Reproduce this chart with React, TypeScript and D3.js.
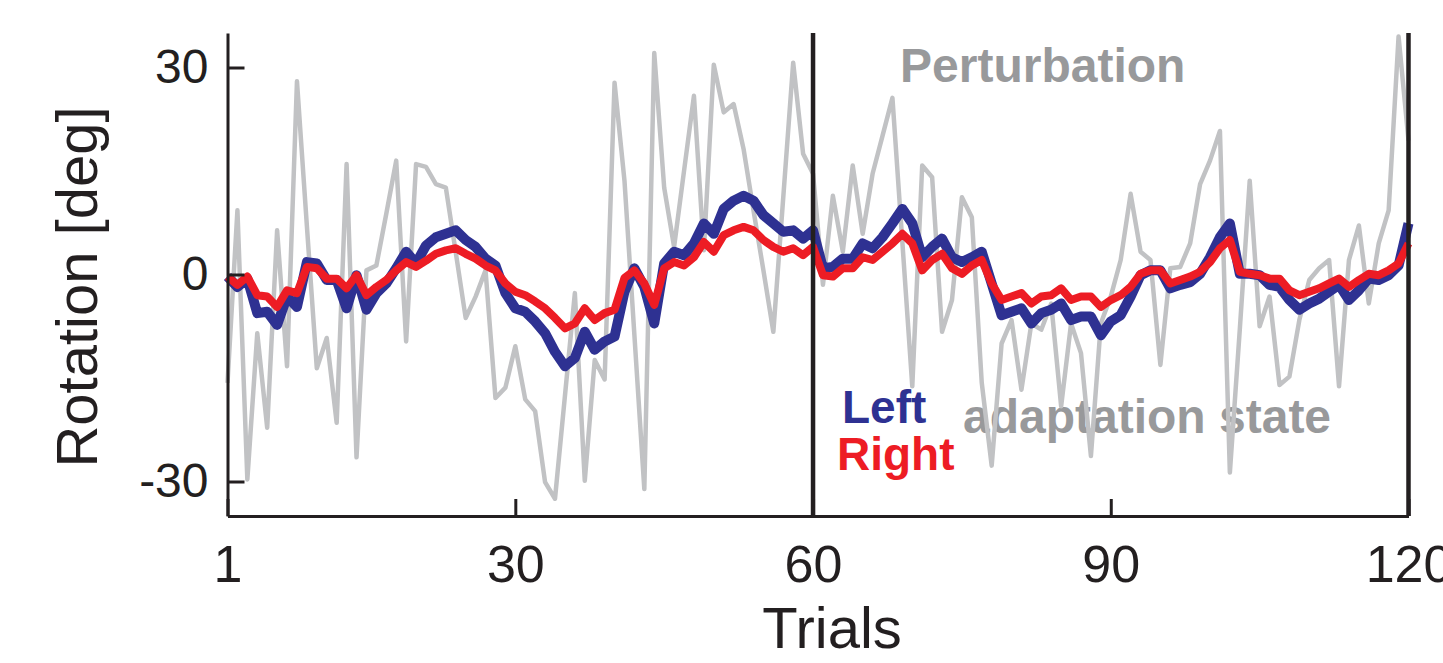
import { useEffect, useRef } from "react";
import { select, scaleLinear, line, axisLeft, axisBottom, range } from "d3";

// trial numbers 1..120
const trials = range(1, 121);

// grey trace: imposed perturbation per trial [deg]
const perturbation = [
  -15.7, 9.3, -29.7, -8.5, -22.2, 6.4, -13.3, 28.0, 7.0, -13.6,
  -9.2, -21.5, 16.0, -26.5, 0.6, 1.3, 8.8, 16.5, -9.7, 16.0,
  15.6, 13.1, 12.6, 3.2, -6.3, -3.2, 0.6, -17.9, -16.4, -10.4,
  -18.1, -19.8, -30.1, -32.5, -17.6, -2.7, -29.9, -12.4, -15.2, 27.8,
  13.6, -8.8, -31.1, 32.1, 12.6, 4.0, 15.0, 25.9, 3.5, 30.4,
  23.5, 24.7, 18.2, 9.3, 0.6, -8.3, 11.2, 30.7, 17.5, 14.6,
  -1.5, 11.4, 3.3, 15.8, 5.9, 14.6, 20.1, 25.6, 4.7, -16.2,
  15.8, 14.1, -8.3, -3.7, 11.2, 8.3, -15.7, -27.7, -10.0, -6.6,
  -16.7, -7.1, -8.0, -4.2, -19.1, -7.1, -11.4, -26.3, -7.1, -3.2,
  2.1, 11.7, 3.3, 2.1, -13.1, 0.9, 1.1, 4.5, 13.1, 16.5,
  20.8, -28.7, -8.0, 13.6, -7.5, -3.2, -16.0, -14.8, -6.6, -0.8,
  0.9, 2.1, -16.2, 2.1, 7.1, -4.2, 4.5, 9.3, 34.5, 19.4,
];

// adaptation state, left hand
const leftState = [
  -0.3, -1.8, -0.6, -5.6, -5.4, -7.3, -3.2, -4.7, 1.8, 1.6,
  -0.8, -0.8, -4.9, -0.1, -5.1, -2.7, -1.3, 0.9, 3.3, 1.6,
  4.2, 5.4, 5.9, 6.4, 5.0, 4.0, 2.3, 1.3, -2.7, -4.9,
  -5.4, -6.8, -8.5, -11.2, -13.3, -12.1, -8.3, -10.9, -9.7, -9.0,
  -2.5, 0.9, -1.8, -7.1, 1.6, 3.3, 2.8, 4.5, 7.4, 5.9,
  9.5, 10.7, 11.4, 10.7, 8.6, 7.4, 6.2, 6.4, 5.2, 6.4,
  0.9, 1.1, 2.3, 2.3, 4.5, 3.8, 5.4, 7.4, 9.5, 7.4,
  2.5, 4.0, 5.2, 2.5, 1.8, 2.5, 3.3, -1.3, -5.9, -5.4,
  -4.9, -7.1, -5.6, -5.1, -4.2, -6.6, -6.1, -6.1, -8.8, -6.8,
  -5.9, -3.2, -0.1, 0.6, 0.6, -2.0, -1.5, -1.1, 0.1, 2.5,
  5.4, 7.4, 0.1, 0.1, -0.1, -1.5, -1.8, -3.7, -5.1, -4.2,
  -3.5, -2.5, -1.5, -3.7, -2.3, -0.6, -0.8, -0.1, 1.3, 7.4,
];

// adaptation state, right hand
const rightState = [
  -0.3, -1.5, -0.3, -3.0, -3.2, -4.7, -2.3, -2.7, 1.1, 0.9,
  -0.6, -0.6, -2.0, -0.1, -3.0, -1.8, -0.8, 0.6, 1.8, 1.1,
  2.0, 3.0, 3.5, 3.8, 3.0, 2.3, 1.3, 0.6, -1.3, -2.5,
  -3.0, -3.9, -4.9, -6.3, -7.8, -7.1, -4.9, -6.6, -5.6, -5.1,
  -0.5, 0.6, -1.3, -4.4, 0.9, 1.8, 1.3, 2.5, 4.7, 3.3,
  5.7, 6.4, 6.9, 6.4, 5.0, 4.0, 3.3, 3.8, 2.8, 4.0,
  -0.1, -0.3, 0.9, 0.9, 2.5, 2.1, 3.3, 4.5, 5.9, 4.5,
  0.6, 2.1, 3.0, 0.9, 0.1, 1.3, 2.1, -1.3, -3.7, -3.2,
  -2.7, -4.2, -3.2, -3.0, -2.0, -3.7, -3.2, -3.2, -4.7, -3.7,
  -3.0, -1.8, 0.1, 0.6, 0.6, -1.3, -0.8, -0.3, 0.4, 1.8,
  3.8, 5.0, 0.4, 0.1, -0.1, -0.6, -0.6, -2.3, -3.0, -2.5,
  -2.0, -1.3, -0.6, -1.8, -0.8, 0.1, -0.1, 0.6, 1.6, 4.5,
];

const xTicks = [1, 30, 60, 90, 120];
const yTicks = [-30, 0, 30];
const blockEdges = [60, 120];

const FONT = "'Liberation Sans', Arial, Helvetica, sans-serif";
const INK = "#231f20";

export default function App() {
  const svgRef = useRef<SVGSVGElement>(null);

  useEffect(() => {
    const svg = svgRef.current;
    if (svg === null) return;
    const root = select(svg);
    root.selectAll("*").remove();

    const x = scaleLinear().domain([1, 120]).range([227.5, 1408.5]);
    const y = scaleLinear().domain([-35, 35]).range([516, 33]);

    // labels that sit under the traces
    root.append("text")
      .attr("x", 963).attr("y", 433)
      .attr("font-family", FONT).attr("font-weight", "bold").attr("font-size", 48)
      .attr("fill", "#98999b")
      .text("adaptation state");

    root.append("text")
      .attr("x", 900).attr("y", 82)
      .attr("font-family", FONT).attr("font-weight", "bold").attr("font-size", 48)
      .attr("fill", "#98999b")
      .text("Perturbation");

    const traces = [
      { name: "pert", values: perturbation, color: "#c1c2c4", width: 4.5 },
      { name: "left", values: leftState, color: "#2e3192", width: 10 },
      { name: "right", values: rightState, color: "#ed1c24", width: 8 },
    ];

    const lineGen = line<number>()
      .x((_, i) => x(trials[i]))
      .y(d => y(d));

    root.selectAll("path.trace")
      .data(traces)
      .join("path")
      .attr("class", "trace")
      .attr("d", d => lineGen(d.values))
      .attr("fill", "none")
      .attr("stroke", d => d.color)
      .attr("stroke-width", d => d.width)
      .attr("stroke-linejoin", "round");

    // block boundaries
    root.selectAll("line.edge")
      .data(blockEdges)
      .join("line")
      .attr("class", "edge")
      .attr("x1", d => x(d)).attr("x2", d => x(d))
      .attr("y1", y(35)).attr("y2", y(-35))
      .attr("stroke", INK)
      .attr("stroke-width", 4.5);

    const yAxis = root.append("g")
      .attr("transform", `translate(${x(1)},0)`)
      .call(axisLeft(y).tickValues(yTicks).tickSizeInner(-17).tickSizeOuter(0).tickPadding(19).tickFormat(d => String(d)));

    const xAxis = root.append("g")
      .attr("transform", `translate(0,${y(-35)})`)
      .call(axisBottom(x).tickValues(xTicks).tickSizeInner(-17).tickSizeOuter(0).tickPadding(29).tickFormat(d => String(d)));

    [yAxis, xAxis].forEach(g => {
      g.select(".domain").attr("stroke", INK).attr("stroke-width", 3);
      g.selectAll(".tick line").attr("stroke", INK).attr("stroke-width", 3);
      g.selectAll(".tick text").attr("fill", INK).attr("font-family", FONT);
    });
    yAxis.selectAll(".tick text").attr("font-size", 48);
    xAxis.selectAll(".tick text").attr("font-size", 52);

    root.append("text")
      .attr("transform", "translate(97,287) rotate(-90)")
      .attr("text-anchor", "middle")
      .attr("font-family", FONT).attr("font-size", 58)
      .attr("fill", INK)
      .text("Rotation [deg]");

    root.append("text")
      .attr("x", 832).attr("y", 648)
      .attr("text-anchor", "middle")
      .attr("font-family", FONT).attr("font-size", 58)
      .attr("fill", INK)
      .text("Trials");

    // legend
    root.append("text")
      .attr("x", 842).attr("y", 423)
      .attr("font-family", FONT).attr("font-weight", "bold").attr("font-size", 46)
      .attr("fill", "#2e3192")
      .text("Left");
    root.append("text")
      .attr("x", 837).attr("y", 470)
      .attr("font-family", FONT).attr("font-weight", "bold").attr("font-size", 46)
      .attr("fill", "#ed1c24")
      .text("Right");
  }, []);

  return (
    <div style={{ position: "absolute", left: 0, top: 0 }}>
      <svg ref={svgRef} width={1443} height={663} style={{ display: "block", background: "#fff" }} />
    </div>
  );
}
